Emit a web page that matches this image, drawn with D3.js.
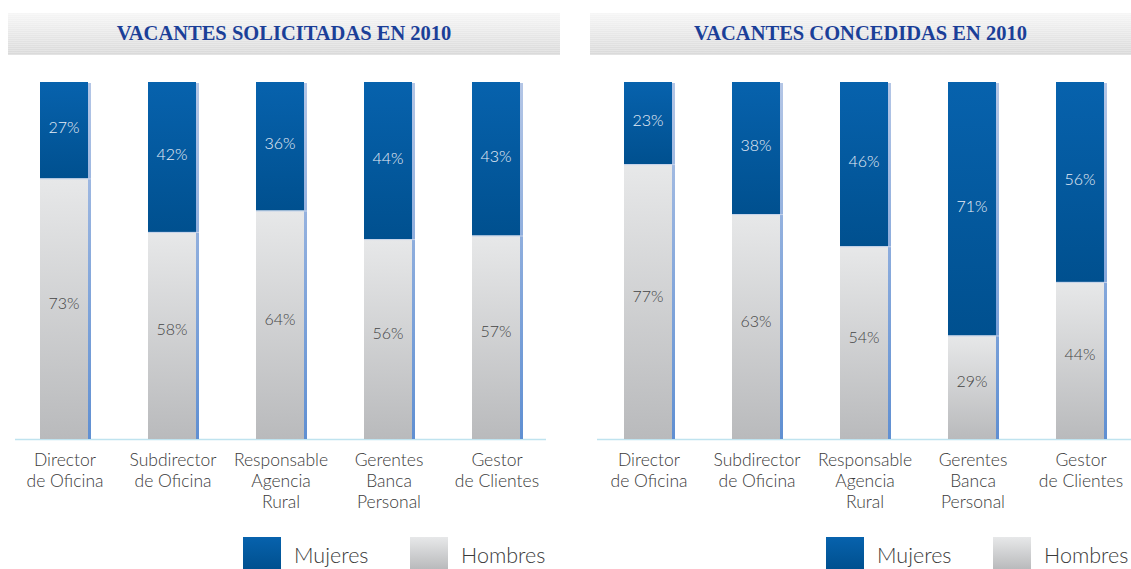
<!DOCTYPE html>
<html>
<head>
<meta charset="utf-8">
<script src="https://cdn.jsdelivr.net/npm/d3@7"></script>
<style>
  body { margin: 0; background: #fff; }
  svg { display: block; }
</style>
</head>
<body>
<div id="chart"></div>
<script>
// data
var categories = ["Director\nde Oficina", "Subdirector\nde Oficina", "Responsable\nAgencia\nRural", "Gerentes\nBanca\nPersonal", "Gestor\nde Clientes"]
var solicitadasMujeres = [27, 42, 36, 44, 43]
var solicitadasHombres = [73, 58, 64, 56, 57]
var concedidasMujeres = [23, 38, 46, 71, 56]
var concedidasHombres = [77, 63, 54, 29, 44]
var panelTitles = ["VACANTES SOLICITADAS EN 2010", "VACANTES CONCEDIDAS EN 2010"]
var legendLabels = ["Mujeres", "Hombres"]

var width = 1131, height = 569

var svg = d3.select("#chart")
  .append("svg")
  .attr("width", width)
  .attr("height", height)

// gradients
var defs = svg.append("defs")
function grad(id, stops) {
  var g = defs.append("linearGradient").attr("id", id)
    .attr("x1", 0).attr("y1", 0).attr("x2", 0).attr("y2", 1)
  stops.forEach(function (s) {
    g.append("stop").attr("offset", s[0]).attr("stop-color", s[1])
  })
}
grad("blueGrad", [[0, "#0762ad"], [1, "#00508f"]])
grad("greyGrad", [[0, "#e7e8e9"], [1, "#b9babc"]])
grad("edgeGrad", [[0, "#b4c6e6"], [1, "#5f8fd2"]])
grad("titleGrad", [[0, "#f6f6f6"], [1, "#d9d9d9"]])

var stripes = defs.append("pattern").attr("id", "stripes")
  .attr("width", 4).attr("height", 2).attr("patternUnits", "userSpaceOnUse")
stripes.append("rect").attr("width", 4).attr("height", 1).attr("fill", "#fff").attr("opacity", 0.25)

var panels = [
  {x0: 8, x1: 560, axis0: 15, axis1: 546, barStart: 40, m: solicitadasMujeres, h: solicitadasHombres, legendX: 243},
  {x0: 590, x1: 1131, axis0: 597, axis1: 1131, barStart: 624, m: concedidasMujeres, h: concedidasHombres, legendX: 826}
]

var barTop = 82, barBottom = 439
var y = d3.scaleLinear().domain([0, 100]).range([barBottom, barTop])

panels.forEach(function (p, pi) {
  var g = svg.append("g")

  // title bar
  g.append("rect").attr("x", p.x0).attr("y", 13).attr("width", p.x1 - p.x0).attr("height", 42)
    .attr("fill", "url(#titleGrad)")
  g.append("rect").attr("x", p.x0).attr("y", 13).attr("width", p.x1 - p.x0).attr("height", 42)
    .attr("fill", "url(#stripes)")
  g.append("text")
    .attr("x", (p.x0 + p.x1) / 2).attr("y", 40)
    .attr("text-anchor", "middle")
    .style("font-family", "'Liberation Serif', serif")
    .style("font-weight", "bold")
    .style("font-size", "20.5px")
    .style("fill", "#1b3f98")
    .text(panelTitles[pi])

  var x = d3.scaleBand()
    .domain(d3.range(categories.length))
    .range([p.barStart - 30, p.barStart - 30 + 108 * 5])
    .paddingInner(0.5556).paddingOuter(0.2778)

  var bw = x.bandwidth()

  // axis line
  g.append("line").attr("x1", p.axis0).attr("x2", p.axis1)
    .attr("y1", barBottom + 0.5).attr("y2", barBottom + 0.5)
    .attr("stroke", "#bfe3ef").attr("stroke-width", 1.5)

  categories.forEach(function (c, i) {
    var bx = x(i)
    var mv = p.m[i], hv = p.h[i]
    var split = y(hv)
    // side edge
    g.append("rect").attr("x", bx + bw).attr("y", barTop + 1).attr("width", 3)
      .attr("height", barBottom - barTop - 1).attr("fill", "url(#edgeGrad)")
    // hombres (bottom)
    g.append("rect").attr("x", bx).attr("y", split).attr("width", bw)
      .attr("height", barBottom - split).attr("fill", "url(#greyGrad)")
    // mujeres (top)
    g.append("rect").attr("x", bx).attr("y", y(100)).attr("width", bw)
      .attr("height", split - y(100)).attr("fill", "url(#blueGrad)")
    // thin highlight at split
    g.append("line").attr("x1", bx).attr("x2", bx + bw + 3)
      .attr("y1", split + 0.5).attr("y2", split + 0.5)
      .attr("stroke", "#c6d3ea").attr("stroke-width", 1)

    g.append("text")
      .attr("x", bx + bw / 2).attr("y", (y(100) + split) / 2 + 3)
      .attr("text-anchor", "middle")
      .style("font-family", "Lato, sans-serif").style("font-weight", 300)
      .style("font-size", "16px").style("fill", "#e8eef7")
      .text(mv + "%")
    g.append("text")
      .attr("x", bx + bw / 2).attr("y", (split + barBottom) / 2)
      .attr("text-anchor", "middle")
      .style("font-family", "Lato, sans-serif").style("font-weight", 300)
      .style("font-size", "16px").style("fill", "#444")
      .text(hv + "%")

    // category label
    var t = g.append("text")
      .attr("text-anchor", "middle")
      .style("font-family", "Lato, sans-serif").style("font-weight", 300)
      .style("font-size", "17.5px").style("fill", "#3a3a3a")
    c.split("\n").forEach(function (line, li) {
      t.append("tspan").attr("x", bx + bw / 2 + 1).attr("y", 466 + li * 21).text(line)
    })
  })

  // legend
  var fills = ["url(#blueGrad)", "url(#greyGrad)"]
  legendLabels.forEach(function (l, li) {
    var lx = p.legendX + li * 167
    g.append("rect").attr("x", lx).attr("y", 537).attr("width", 38).attr("height", 32).attr("fill", fills[li])
    g.append("text").attr("x", lx + 51).attr("y", 563)
      .style("font-family", "Lato, sans-serif").style("font-weight", 300)
      .style("font-size", "21.5px").style("fill", "#3a3a3a")
      .text(l)
  })
})
</script>
</body>
</html>
